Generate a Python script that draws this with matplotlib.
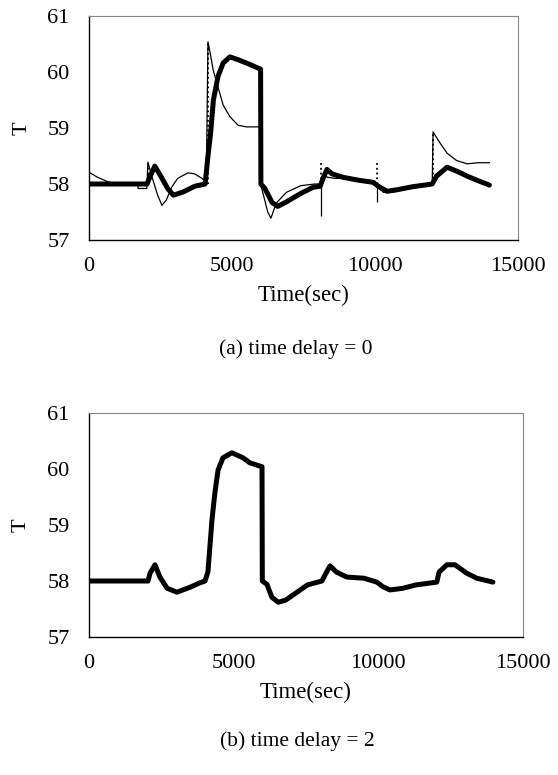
import numpy as np
import matplotlib.pyplot as plt

plt.rcParams['font.family'] = ['Liberation Serif', 'DejaVu Serif']

# (a) time delay = 0 : thick response
t_a_thick = [0, 2030, 2150, 2300, 2500, 2750, 2950, 3300, 3700, 4060, 4160, 4250, 4350,
             4510, 4690, 4930, 5210, 5600, 6000, 6010, 6150, 6400, 6600, 6900, 7400,
             7830, 8080, 8200, 8320, 8500, 8880, 9400, 9930, 10150, 10420, 10800, 11300,
             12000, 12150, 12520, 12900, 13220, 13600, 14000]
T_a_thick = [58.0, 58.0, 58.15, 58.32, 58.15, 57.92, 57.8, 57.86, 57.96, 58.0, 58.5, 58.9, 59.5,
             59.92, 60.16, 60.27, 60.22, 60.14, 60.05, 58.0, 57.92, 57.67, 57.6, 57.68, 57.83,
             57.94, 57.96, 58.12, 58.26, 58.18, 58.12, 58.07, 58.03, 57.95, 57.87, 57.9, 57.95,
             58.0, 58.14, 58.3, 58.22, 58.14, 58.06, 57.98]

# (a) time delay = 0 : thin response (without spikes)
t_a_thin = [0, 300, 660, 1000, 1700, 1720, 2020, 2060, 2200, 2400, 2550, 2700, 2900, 3100,
            3460, 3700, 3950, 4100, 4160, 4250, 4340, 4500, 4690, 4930, 5210, 5500, 5980,
            6000, 6100, 6250, 6360, 6550, 6900, 7400, 7900, 8080, 8200, 8350, 8600, 9000,
            9500, 10000, 10070, 10300, 10600, 11000, 11500, 12000, 12030, 12250, 12520,
            12850, 13220, 13600, 14000]
T_a_thin = [58.21, 58.12, 58.04, 58.0, 58.0, 57.92, 57.92, 58.39, 58.13, 57.8, 57.62, 57.71,
            57.95, 58.1, 58.2, 58.18, 58.1, 58.02, 60.54, 60.3, 60.04, 59.75, 59.41, 59.2, 59.05,
            59.02, 59.02, 58.0, 57.8, 57.5, 57.39, 57.66, 57.85, 57.97, 58.0, 58.0, 58.15, 58.12,
            58.1, 58.1, 58.08, 58.05, 57.95, 57.85, 57.85, 57.9, 57.95, 58.0, 58.93, 58.75,
            58.55, 58.42, 58.36, 58.38, 58.38]

# spikes of the thin response (dotted in the scan)
spike_t = [0, 2060, 4150, 8100, 10060, 12020]
spike_lo = [58.0, 58.0, 58.0, 58.0, 58.0, 58.0]
spike_hi = [58.45, 58.4, 60.55, 58.43, 58.43, 58.93]
# downward thin spikes
down_t = [8100, 10060]
down_lo = [57.42, 57.68]
down_hi = [58.0, 58.0]

# (b) time delay = 2
t_b = [0, 2040, 2110, 2280, 2450, 2700, 3040, 3500, 3800, 4010, 4110, 4250, 4350, 4460,
       4630, 4940, 5320, 5560, 5980, 5990, 6150, 6320, 6540, 6800, 7190, 7550, 8050, 8150,
       8330, 8550, 8910, 9500, 9950, 10150, 10400, 10850, 11300, 12020, 12100, 12370,
       12650, 13050, 13400, 13960]
T_b = [58.0, 58.0, 58.14, 58.29, 58.07, 57.87, 57.8, 57.89, 57.96, 58.0, 58.16, 59.09, 59.57, 59.98,
       60.2, 60.29, 60.2, 60.11, 60.04, 58.0, 57.94, 57.71, 57.62, 57.66, 57.8, 57.93, 58.0, 58.1,
       58.27, 58.16, 58.07, 58.05, 57.98, 57.9, 57.84, 57.87, 57.93, 57.98, 58.16, 58.29,
       58.29, 58.14, 58.05, 57.98]

xticks = [0, 5000, 10000, 15000]
yticks = [57, 58, 59, 60, 61]

fig = plt.figure(figsize=(5.58, 7.75), dpi=100)
ax_a = fig.add_axes([89 / 558, 1 - 240 / 775, 429 / 558, 224 / 775])
ax_b = fig.add_axes([89 / 558, 1 - 637 / 775, 434 / 558, 224 / 775])

ax_a.plot(t_a_thin, T_a_thin, color='black', lw=0.9)
ax_a.vlines(spike_t, spike_lo, spike_hi, colors='black', linestyles=':', lw=1.3)
ax_a.vlines(down_t, down_lo, down_hi, colors='black', lw=0.9)
ax_a.plot(t_a_thick, T_a_thick, color='black', lw=3.6, solid_joinstyle='round',
          solid_capstyle='round')
ax_b.plot(t_b, T_b, color='black', lw=3.6, solid_joinstyle='round',
          solid_capstyle='round')

for ax in (ax_a, ax_b):
    ax.set_xlim(0, 15000)
    ax.set_ylim(57, 61)
    ax.set_xticks(xticks)
    ax.set_yticks(yticks)
    ax.tick_params(length=0, labelsize=16)
    ax.tick_params(axis='x', pad=12)
    ax.tick_params(axis='y', pad=14)
    for s in ('top', 'right'):
        ax.spines[s].set_color('#888888')
        ax.spines[s].set_linewidth(0.8)
    for s in ('left', 'bottom'):
        ax.spines[s].set_color('black')
        ax.spines[s].set_linewidth(1.0)
    ax.set_xlabel('Time(sec)', fontsize=16.5)
    ax.set_ylabel('T', fontsize=16)
    ax.yaxis.set_label_coords(-0.135, 0.5)
    ax.xaxis.set_label_coords(0.5, -0.2)

fig.text(296 / 558, 1 - 349 / 775, '(a) time delay = 0',
         ha='center', va='center', fontsize=15.5)
fig.text(297 / 558, 1 - 741 / 775, '(b) time delay = 2',
         ha='center', va='center', fontsize=15.5)

fig.savefig('out.png', dpi=100)
